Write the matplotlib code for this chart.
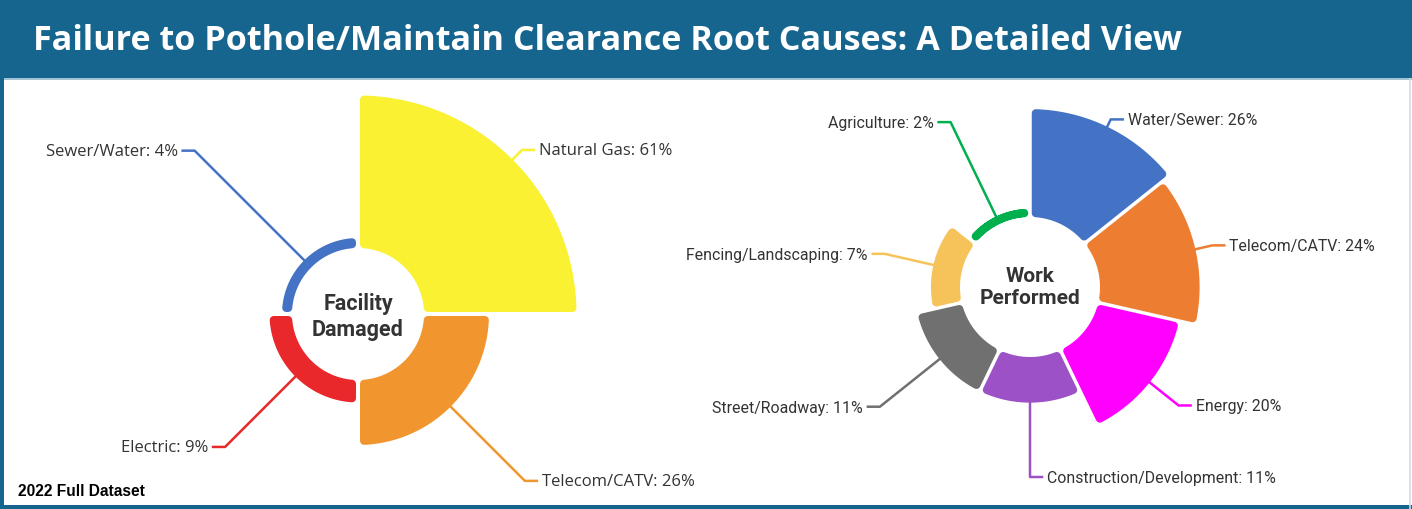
import numpy as np
import matplotlib
matplotlib.use("Agg")
import matplotlib.pyplot as plt
from matplotlib.patches import Polygon, Rectangle

# ---------------- data ----------------
title = "Failure to Pothole/Maintain Clearance Root Causes: A Detailed View"
footnote = "2022 Full Dataset"

facility_center_label = "Facility\nDamaged"
facility_categories = ["Natural Gas", "Telecom/CATV", "Electric", "Sewer/Water"]
facility_values = [61, 26, 9, 4]
facility_colors = ["#FAF132", "#F1962E", "#E8282B", "#4472C4"]

work_center_label = "Work\nPerformed"
work_categories = ["Water/Sewer", "Telecom/CATV", "Energy", "Construction/Development",
                   "Street/Roadway", "Fencing/Landscaping", "Agriculture"]
work_values = [26, 24, 20, 11, 11, 7, 2]
work_colors = ["#4472C4", "#ED7D31", "#FF00FF", "#9C51C6", "#707070", "#F6C35A", "#00B04F"]

# ---------------- layout ----------------
W, H = 1412, 509
fig = plt.figure(figsize=(W / 100, H / 100), dpi=100)
ax = fig.add_axes([0, 0, 1, 1])
ax.set_xlim(0, W)
ax.set_ylim(H, 0)
ax.set_aspect("equal")
ax.axis("off")

PX2PT = 72 / 100.0
TEXT = "#333333"

# frame & title bar
ax.add_patch(Rectangle((0, 0), W, H, facecolor="white", edgecolor="none", zorder=0))
ax.add_patch(Rectangle((0, 0), W, 78, facecolor="#15658F", edgecolor="none", zorder=1))
ax.plot([0, W], [79, 79], color="#8FB8CC", lw=1.2, zorder=1)
ax.add_patch(Rectangle((0, 0), 3.5, H, facecolor="#15658F", edgecolor="none", zorder=5))
ax.add_patch(Rectangle((0, H - 4.5), W, 4.5, facecolor="#15658F", edgecolor="none", zorder=5))
ax.plot([W - 2.5, W - 2.5], [79, H], color="#D5DCE0", lw=1.2, zorder=5)

ax.text(33, 41, title, color="white", fontsize=24.6, fontweight="bold",
        family="Open Sans", ha="left", va="center", zorder=6)
ax.text(18, 492, footnote, color="black", fontsize=11.2, fontweight="bold",
        family="Liberation Sans", ha="left", va="center", zorder=6)


def pt(cx, cy, r, a):
    """a: degrees clockwise from 12 o'clock (pixel coords, y down)."""
    t = np.deg2rad(a)
    return cx + r * np.sin(t), cy - r * np.cos(t)


def arc(cx, cy, r, a1, a2, n=80):
    a = np.linspace(a1, a2, n)
    t = np.deg2rad(a)
    return np.column_stack([cx + r * np.sin(t), cy - r * np.cos(t)])


def rounded_slice(cx, cy, r_in, r_out, a1, a2, color, gap=3.5, corner=4.0):
    thick = r_out - r_in
    d = min(corner, thick / 2.0)
    ri = r_in + d
    ro = r_out - d
    if ro < ri:
        ro = ri
    s = gap / 2.0 + d
    pts = []
    for r, rev in ((ro, False), (ri, True)):
        da = np.rad2deg(np.arcsin(min(s / r, 0.99)))
        seg = arc(cx, cy, r, a1 + da, a2 - da)
        pts.append(seg[::-1] if rev else seg)
    poly = np.vstack(pts)
    ax.add_patch(Polygon(poly, closed=True, facecolor=color, edgecolor=color,
                         lw=2 * d * PX2PT, joinstyle="round", zorder=3))


def donut(cx, cy, r0, k, cats, vals, colors, elbows, center_label, label_font,
          label_fs, gap, cen_fs, cen_dy):
    n = len(vals)
    step = 360.0 / n
    for i, (c, v, col, re) in enumerate(zip(cats, vals, colors, elbows)):
        a1, a2 = i * step, (i + 1) * step
        r_out = r0 + k * v
        rounded_slice(cx, cy, r0, r_out, a1, a2, col, gap=gap)
        am = (a1 + a2) / 2
        x0, y0 = pt(cx, cy, r_out, am)
        x1, y1 = pt(cx, cy, re, am)
        side = 1 if np.sin(np.deg2rad(am)) >= -1e-9 else -1
        x2 = x1 + side * 12
        ax.plot([x0, x1, x2], [y0, y1, y1], color=col, lw=2.5 * PX2PT,
                solid_joinstyle="round", zorder=2)
        ax.text(x2 + side * 5, y1 + 1.5, f"{c}: {v}%", ha="left" if side > 0 else "right",
                va="center", fontsize=label_fs, color=TEXT, family=label_font, zorder=6)
    ax.text(cx, cy + cen_dy, center_label, ha="center", va="center", fontsize=cen_fs,
            fontweight="bold", color=TEXT, family="Roboto", linespacing=1.2, zorder=6)


donut(358, 314, 66, 2.5, facility_categories, facility_values, facility_colors,
      [232, 236, 188, 231], facility_center_label, "Open Sans", 12, 4.0, 15.5, 3)
donut(1030, 287, 70, 4.15, work_categories, work_values, work_colors,
      [186, 187, 190, 190, 192, 149, 183], work_center_label, "Roboto", 11.4, 3.5, 15, 0)

fig.savefig("out.png", dpi=100)
